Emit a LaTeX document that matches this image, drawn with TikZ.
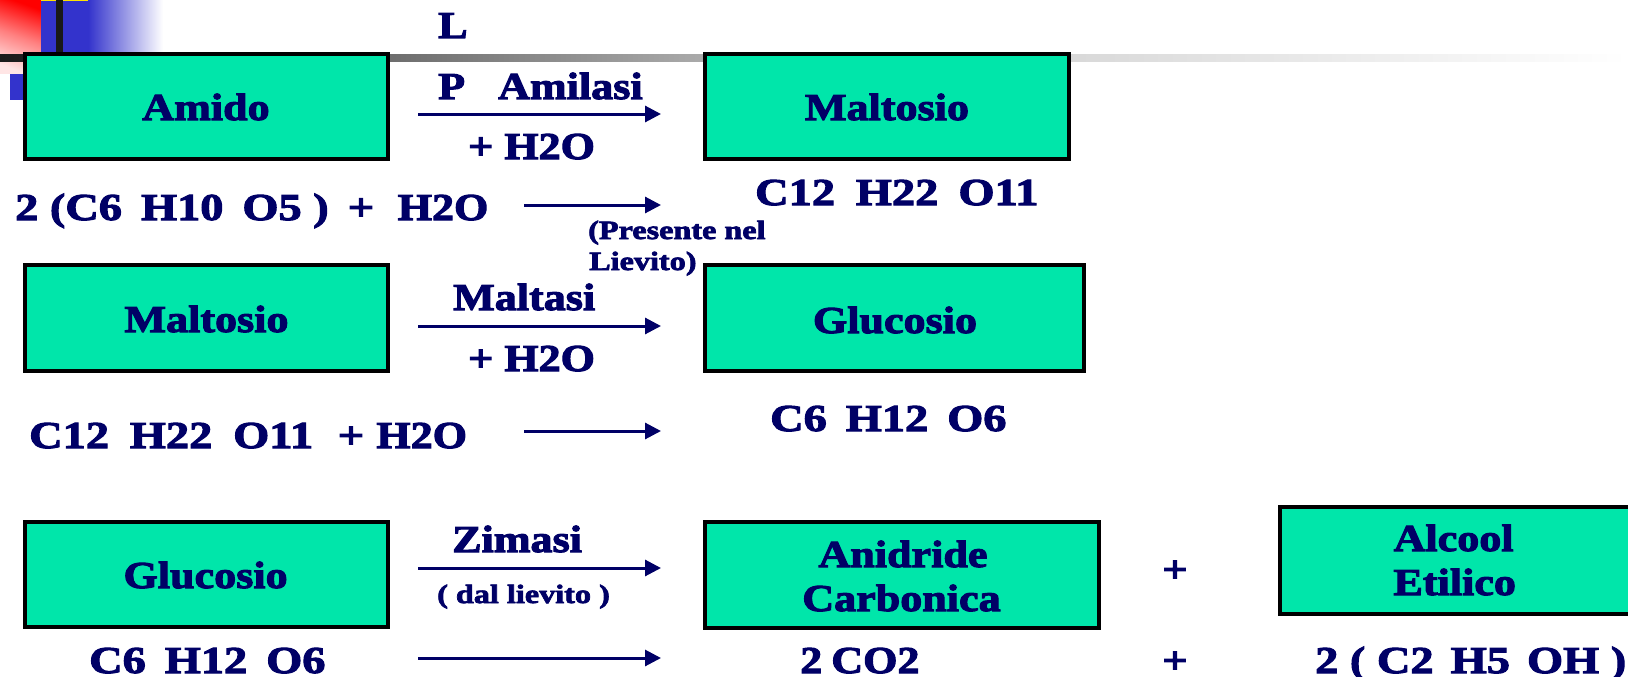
\documentclass[tikz,border=0pt]{standalone}
\usepackage{fontspec}
\setmainfont{Liberation Serif}[BoldFont={Liberation Serif Bold},BoldFeatures={FakeBold=2.8,FakeStretch=1.22}]
\newfontfamily\narrowbold{Liberation Serif Bold}[FakeBold=2.8,FakeStretch=1.16]
\usetikzlibrary{arrows.meta}
\definecolor{navy}{RGB}{0,0,102}
\definecolor{boxgreen}{RGB}{0,230,170}
\definecolor{rblue}{RGB}{51,51,204}
\pgfdeclarehorizontalshading{ruleshade}{100bp}{color(0bp)=(black!90);color(25bp)=(black!90);color(37bp)=(black!57);color(46.7bp)=(black!33);color(58bp)=(black!15);color(75bp)=(white);color(100bp)=(white)}
\pgfdeclarehorizontalshading{blueshade}{100bp}{color(0bp)=(rblue);color(44.3bp)=(rblue);color(75bp)=(white);color(100bp)=(white)}
\tikzset{
 x=1pt,y=-1pt,
 gbox/.style={draw=black,line width=3.2pt,fill=boxgreen,inner sep=0pt,outer sep=0pt,anchor=north west},
 lab/.style={text=navy,font=\fontsize{38}{38}\selectfont\bfseries,anchor=base west,inner sep=0pt,align=center},
 nlab/.style={lab,font=\fontsize{38}{38}\selectfont\narrowbold},
 ctr/.style={nlab,anchor=base},
 small/.style={lab,font=\fontsize{26.4}{31}\selectfont\bfseries},
 arr/.style={navy,line width=3pt,-{Triangle[length=16pt,width=16pt]}},
}
\begin{document}
\begin{tikzpicture}
\useasboundingbox (0,0) rectangle (1628,677);
% background template
\shade[top color=red,bottom color=red!10,middle color=red!50,shading angle=-20] (0,0) rectangle (41,74);
\shade[shading=blueshade] (41,1) rectangle (163,53);
\fill[yellow!85!orange] (41,0) rectangle (88,0.8);
\fill[black!90] (56,0) rectangle (63,55);
\shade[shading=ruleshade] (0,55) rectangle (1628,62);
\fill[rblue] (10,74) rectangle (30,100);
% boxes
\node[gbox,minimum width=363pt,minimum height=105pt] (amido) at (25,54) {};
\node[gbox,minimum width=364pt,minimum height=105pt] (malt1) at (705,54) {};
\node[gbox,minimum width=363pt,minimum height=106pt] (malt2) at (25,265) {};
\node[gbox,minimum width=379pt,minimum height=106pt] (gluc1) at (705,265) {};
\node[gbox,minimum width=363pt,minimum height=105pt] (gluc2) at (25,522) {};
\node[gbox,minimum width=394pt,minimum height=106pt] (anid) at (705,522) {};
\node[gbox,minimum width=360pt,minimum height=107pt] (alc) at (1280,507) {};
% box labels
\node[ctr] (tamido) at (206,120) {Amido};
\node[ctr] (tmalt1) at (887,120) {Maltosio};
\node[ctr] (tmalt2) at (206.5,332) {Maltosio};
\node[ctr] (tgluc1) at (895,333) {Glucosio};
\node[ctr] (tgluc2) at (205.6,588) {Glucosio};
\node[ctr] (tanid1) at (903,567) {Anidride};
\node[ctr] (tanid2) at (901.5,611) {Carbonica};
\node[ctr] (talc1) at (1453.6,551) {Alcool};
\node[ctr] (talc2) at (1454.7,595) {Etilico};
% texts
\node[nlab] (tl) at (438,38) {L};
\node[nlab] (tp) at (438,99) {P\hspace{0.87em}Amilasi};
\node[nlab] (th1) at (468,159) {+ H2O};
\node[lab] (f1) at (15,220) {2 (C6\hspace{0.5em}H10\hspace{0.5em}O5 )\hspace{0.5em}+\hspace{0.62em}{\narrowbold H2O}};
\node[lab] (f1b) at (755,205) {C12\hspace{0.55em}H22\hspace{0.53em}O11};
\node[small] (pres1) at (588,239) {(Presente nel};
\node[small] (pres2) at (589,270) {Lievito)};
\node[nlab] (tmaltasi) at (453,310) {Maltasi};
\node[nlab] (th2) at (468,371) {+ H2O};
\node[lab] (f2) at (29,448) {C12\hspace{0.55em}H22\hspace{0.55em}O11\hspace{0.65em}+\hspace{0.32em}{\narrowbold H2O}};
\node[lab] (f2b) at (770,431) {C6\hspace{0.5em}H12\hspace{0.5em}O6};
\node[nlab] (tzim) at (452,552) {Zimasi};
\node[small] (tdal) at (437,603) {( dal lievito )};
\node[lab] (f3) at (89,673) {C6\hspace{0.5em}H12\hspace{0.5em}O6};
\node[nlab] (f3b) at (800,673) {2\hspace{0.24em}CO2};
\node[lab] (f3c) at (1315,673) {2 ( C2\hspace{0.45em}H5\hspace{0.45em}OH )};
\node[ctr] (p1) at (1175,582) {+};
\node[ctr] (p2) at (1175,673) {+};
% arrows
\coordinate (a1s) at (418,114); \coordinate (a1e) at (661,114);
\coordinate (a2s) at (524,205); \coordinate (a2e) at (661,205);
\coordinate (a3s) at (418,326); \coordinate (a3e) at (661,326);
\coordinate (a4s) at (524,431); \coordinate (a4e) at (661,431);
\coordinate (a5s) at (418,568); \coordinate (a5e) at (661,568);
\coordinate (a6s) at (418,658); \coordinate (a6e) at (661,658);
\draw[arr] (a1s) -- (a1e);
\draw[arr] (a2s) -- (a2e);
\draw[arr] (a3s) -- (a3e);
\draw[arr] (a4s) -- (a4e);
\draw[arr] (a5s) -- (a5e);
\draw[arr] (a6s) -- (a6e);
\end{tikzpicture}
\end{document}
